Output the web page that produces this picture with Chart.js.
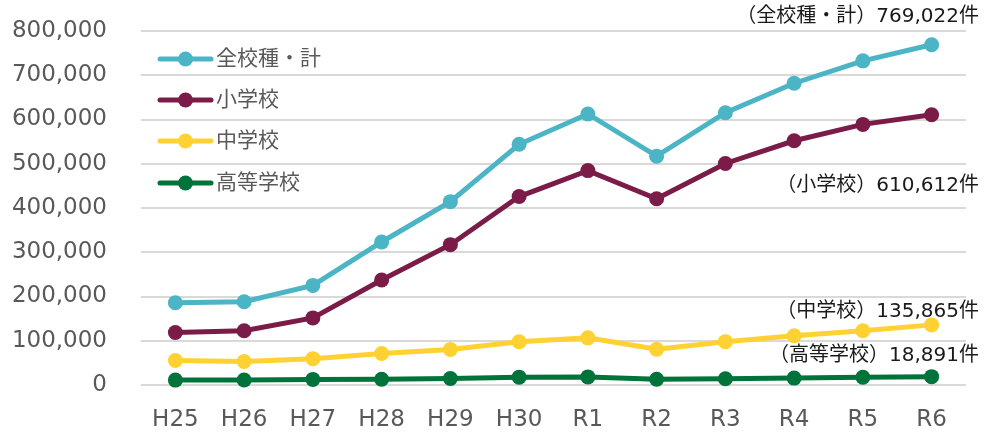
<!DOCTYPE html>
<html><head><meta charset="utf-8">
<script src="https://cdn.jsdelivr.net/npm/chart.js@4.4.1/dist/chart.umd.min.js"></script>
<style>html,body{margin:0;padding:0;background:#fff;}#wrap{width:986px;height:433px;position:relative;}</style>
</head><body><div id="wrap"><canvas id="c" width="986" height="433"></canvas></div>
<script>
const categories = ["H25","H26","H27","H28","H29","H30","R1","R2","R3","R4","R5","R6"];
const totalValues = [185803,188072,225132,323143,414378,543933,612496,517163,615351,681948,732568,769022];
const elementaryValues = [118748,122734,151692,237256,317121,425844,484545,420897,500562,551944,588930,610612];
const juniorValues = [55248,52971,59502,71309,80424,97704,106524,80877,97937,111404,122703,135865];
const highValues = [11039,11404,12664,12874,14789,17709,18352,13126,14157,15568,17611,18891];
const seriesNames = ["全校種・計","小学校","中学校","高等学校"];
const endLabels = ["（全校種・計）769,022件","（小学校）610,612件","（中学校）135,865件","（高等学校）18,891件"];
const colors = ["#4BB5C6","#7B1C48","#FFD133","#00733A"];

const FONT = '"DejaVu Sans","Noto Sans CJK JP",sans-serif';
const values = [totalValues, elementaryValues, juniorValues, highValues];

const overlay = {
  id:'overlay',
  afterDatasetsDraw(chart){
    const ctx = chart.ctx;
    ctx.save();
    const rows = [59,100,141,183];
    ctx.font = '21px ' + FONT;
    ctx.textBaseline = 'middle';
    ctx.textAlign = 'left';
    seriesNames.forEach((n,i)=>{
      const y = rows[i];
      ctx.strokeStyle = colors[i]; ctx.lineWidth = 5; ctx.lineCap='round';
      ctx.beginPath(); ctx.moveTo(160,y); ctx.lineTo(211,y); ctx.stroke();
      ctx.fillStyle = colors[i];
      ctx.beginPath(); ctx.arc(185.5,y,7.5,0,Math.PI*2); ctx.fill();
      ctx.fillStyle = '#595959';
      ctx.fillText(n,216,y+1);
    });
    const ys = [17,186,312,356];
    ctx.font = '20px ' + FONT;
    ctx.textAlign = 'right';
    ctx.fillStyle = '#1a1a1a';
    endLabels.forEach((t,i)=>{ ctx.fillText(t,979,ys[i]); });
    ctx.restore();
  }
};

new Chart(document.getElementById('c'),{
  type:'line',
  data:{
    labels:categories,
    datasets: values.map((v,i)=>({
      label:seriesNames[i], data:v,
      borderColor:colors[i], backgroundColor:colors[i],
      pointBackgroundColor:colors[i], pointBorderColor:colors[i],
      borderWidth:5, pointRadius:7.5, pointBorderWidth:0, pointHoverRadius:7.5,
      tension:0, clip:false
    })).reverse()
  },
  options:{
    responsive:false, animation:false, maintainAspectRatio:false,
    layout:{padding:{top:31,right:20,left:0,bottom:0}},
    plugins:{legend:{display:false},tooltip:{enabled:false}},
    scales:{
      x:{offset:true,
        grid:{display:false,drawTicks:false},
        border:{display:false},
        ticks:{color:'#595959',font:{family:FONT,size:23},padding:21,maxRotation:0,autoSkip:false},
        afterFit(s){s.height=48;}
      },
      y:{min:0,max:800000,
        grid:{color:'#d9d9d9',lineWidth:2,drawTicks:false},
        border:{display:false},
        ticks:{stepSize:100000,color:'#595959',font:{family:FONT,size:23},padding:34,
          callback:v=>v.toLocaleString('en-US')},
        afterFit(s){s.width=141;s.paddingTop=0;s.paddingBottom=0;}
      }
    }
  },
  plugins:[overlay]
});
</script></body></html>
